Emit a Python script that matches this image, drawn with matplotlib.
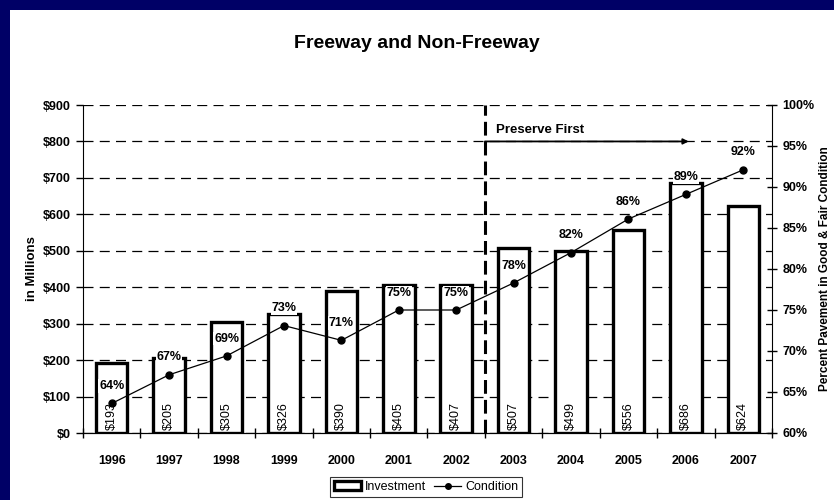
import numpy as np
import matplotlib
matplotlib.use("Agg")
import matplotlib.pyplot as plt
from matplotlib.patches import Rectangle, Patch
from matplotlib.lines import Line2D

plt.rcParams['font.family'] = ['Liberation Sans', 'DejaVu Sans']

years = ['1996', '1997', '1998', '1999', '2000', '2001',
         '2002', '2003', '2004', '2005', '2006', '2007']
investment = [193, 205, 305, 326, 390, 405, 407, 507, 499, 556, 686, 624]
condition = [63.6, 67.1, 69.4, 73.1, 71.3, 75.0, 75.0, 78.3, 82.0, 86.1, 89.1, 92.1]

x = np.arange(len(years))

fig = plt.figure(figsize=(8.34, 5.0), dpi=100)
fig.patch.set_facecolor('#000066')
fig.patches.append(Rectangle((10 / 834, 0), 1, 1 - 10 / 500, transform=fig.transFigure,
                             facecolor='white', edgecolor='none', zorder=-5))

ax = fig.add_axes([83 / 834, 1 - 433 / 500, (772 - 83) / 834, (433 - 105) / 500])
ax.set_facecolor('none')

# bars - investment in $M
ax.bar(x, investment, width=0.55, color='white', edgecolor='black', linewidth=2.4, zorder=2)
for xi, v in zip(x, investment):
    ax.text(xi, 8, f'${v}', rotation=90, ha='center', va='bottom', fontsize=9, zorder=3)

ax.set_xlim(-0.5, len(years) - 0.5)
ax.set_ylim(0, 900)
ax.set_yticks(np.arange(0, 901, 100))
ax.set_yticklabels([f'${v}' for v in range(0, 901, 100)], fontweight='bold', fontsize=9)
ax.set_xticks(x)
ax.set_xticklabels(years, fontweight='bold', fontsize=9)
ax.set_xticks(np.arange(-0.5, len(years) - 0.4, 1), minor=True)
ax.tick_params(axis='x', which='major', length=0, pad=16)
ax.tick_params(axis='x', which='minor', length=7, direction='inout', width=1)
ax.tick_params(axis='y', length=5, width=1, pad=4)
ax.yaxis.grid(True, color='black', linestyle=(0, (8, 5)), linewidth=0.9, zorder=1)
ax.set_axisbelow(True)
ax.spines['top'].set_visible(False)
ax.spines['right'].set_visible(False)
ax.set_ylabel('in Millions', fontweight='bold', fontsize=9.5, labelpad=3)

# Preserve First marker
ax.plot([6.5, 6.5], [0, 900], color='black', linestyle=(0, (4.5, 2)), linewidth=2.2, zorder=3)
ax.annotate('', xy=(10.05, 800), xytext=(6.5, 800),
            arrowprops=dict(arrowstyle='-|>', color='black', lw=1.3,
                            mutation_scale=8, shrinkA=0, shrinkB=0), zorder=4)
ax.text(6.7, 832, 'Preserve First', fontweight='bold', fontsize=9.5, va='center', ha='left')

# condition line on the right axis
ax2 = ax.twinx()
ax2.plot(x, condition, color='black', linewidth=0.9, marker='o', markersize=5, zorder=4)
for xi, c in zip(x, condition):
    ax2.annotate(f'{c:.0f}%', (xi, c), xytext=(0, 12.5), textcoords='offset points',
                 ha='center', va='center', fontsize=9, fontweight='bold',
                 bbox=dict(boxstyle='square,pad=0.05', facecolor='white', edgecolor='none'),
                 zorder=5)
ax2.set_ylim(60, 100)
ax2.set_yticks(np.arange(60, 101, 5))
ax2.set_yticklabels([f'{v}%' for v in range(60, 101, 5)], fontweight='bold', fontsize=9)
ax2.tick_params(axis='y', length=7, width=1, direction='inout', pad=4)
ax2.spines['top'].set_visible(False)
ax2.spines['left'].set_visible(False)
ax2.set_ylabel('Percent Pavement in Good & Fair Condition', fontweight='bold', fontsize=8.5,
               labelpad=3)

fig.text(417 / 834, 1 - 43 / 500, 'Freeway and Non-Freeway', ha='center', va='center',
         fontsize=14, fontweight='bold')

handles = [Patch(facecolor='white', edgecolor='black', linewidth=2.4),
           Line2D([], [], color='black', linewidth=0.9, marker='o', markersize=4)]
leg = fig.legend(handles, ['Investment', 'Condition'], loc='center',
                 bbox_to_anchor=(426 / 834, 1 - 487 / 500), ncol=2, fontsize=9,
                 frameon=True, fancybox=False, edgecolor='black', handlelength=2.2,
                 handletextpad=0.3, columnspacing=0.6, borderpad=0.3)
leg.get_frame().set_linewidth(0.8)

fig.savefig('out.png', dpi=100, facecolor=fig.get_facecolor())
